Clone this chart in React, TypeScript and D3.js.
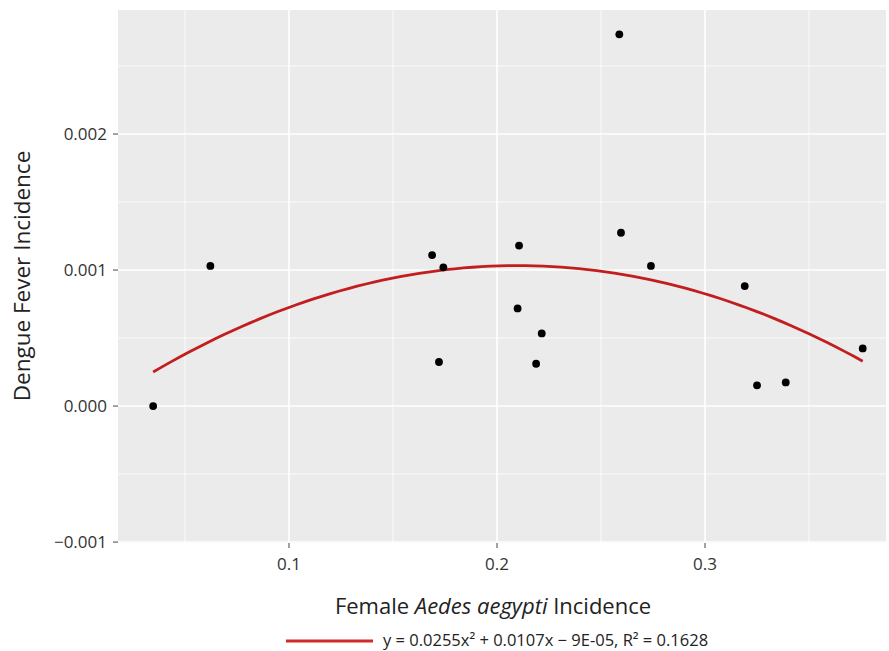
import React from "react";
import { scaleLinear, line, range } from "d3";

// observed points (x = female Aedes aegypti incidence, y = dengue fever incidence)
const aedesIncidence = [
  0.0347, 0.0622, 0.1688, 0.1742, 0.1721, 0.2099, 0.2106, 0.2188,
  0.2215, 0.2588, 0.2596, 0.274, 0.3191, 0.325, 0.3388, 0.3758
];
const dengueIncidence = [
  0.0, 0.00103, 0.00111, 0.00102, 0.000324, 0.000718, 0.00118, 0.000311,
  0.000534, 0.002733, 0.001274, 0.00103, 0.000882, 0.000152, 0.000174, 0.000424
];

// quadratic fit coefficients [a, b, c] for a*x^2 + b*x + c
const fitCoefs = [-0.0255, 0.0107, -0.00009];
const fitLabel = "y = 0.0255x\u00B2 + 0.0107x \u2212 9E-05, R\u00B2 = 0.1628";

const xTicks = [0.1, 0.2, 0.3];
const xMinor = [0.05, 0.15, 0.25, 0.35];
const yTicks = [-0.001, 0, 0.001, 0.002];
const yMinor = [-0.0005, 0.0005, 0.0015, 0.0025];

const xLim = [0.0178, 0.387];
const yLim = [-0.001007, 0.002912];

const W = 889;
const H = 651;
const FONT = "'Open Sans', 'Liberation Sans', sans-serif";

export default function App() {
  const left = 118, right = 886, top = 10, bottom = 543;

  const x = scaleLinear().domain(xLim).range([left, right]);
  const y = scaleLinear().domain(yLim).range([bottom, top]);

  // fitted curve over the observed x range
  const xs = range(0, 81).map(
    (i) => aedesIncidence[0] + (i / 80) * (aedesIncidence[aedesIncidence.length - 1] - aedesIncidence[0])
  );
  const fitPath = line<number>()
    .x((d) => x(d))
    .y((d) => y(fitCoefs[0] * d * d + fitCoefs[1] * d + fitCoefs[2]))(xs);

  const legendY = 640;

  return (
    <svg
      width={W}
      height={H}
      style={{ position: "absolute", left: 0, top: 0, background: "#fff" }}
      fontFamily={FONT}
    >
      <rect x={left} y={top} width={right - left} height={bottom - top} fill="#EBEBEB" />

      {/* minor grid */}
      {yMinor.map((v) => (
        <line key={"ym" + v} x1={left} x2={right} y1={y(v)} y2={y(v)} stroke="#fff" strokeWidth={0.8} />
      ))}
      {xMinor.map((v) => (
        <line key={"xm" + v} x1={x(v)} x2={x(v)} y1={top} y2={bottom} stroke="#fff" strokeWidth={0.8} />
      ))}
      {/* major grid */}
      {yTicks.map((v) => (
        <line key={"yg" + v} x1={left} x2={right} y1={y(v)} y2={y(v)} stroke="#fff" strokeWidth={1.6} />
      ))}
      {xTicks.map((v) => (
        <line key={"xg" + v} x1={x(v)} x2={x(v)} y1={top} y2={bottom} stroke="#fff" strokeWidth={1.6} />
      ))}

      {/* fit curve */}
      <path d={fitPath ?? ""} fill="none" stroke="#c21e1e" strokeWidth={2.8} />

      {/* points */}
      {aedesIncidence.map((v, i) => (
        <circle key={i} cx={x(v)} cy={y(dengueIncidence[i])} r={3.9} fill="#000" />
      ))}

      {/* y axis */}
      {yTicks.map((v) => (
        <g key={"yt" + v}>
          <line x1={left - 5} x2={left} y1={y(v)} y2={y(v)} stroke="#555" strokeWidth={1.1} />
          <text x={left - 11} y={y(v)} dy="0.35em" textAnchor="end" fontSize={17} fill="#333">
            {v < 0 ? "\u2212" + Math.abs(v).toFixed(3) : v.toFixed(3)}
          </text>
        </g>
      ))}
      {/* x axis */}
      {xTicks.map((v) => (
        <g key={"xt" + v}>
          <line x1={x(v)} x2={x(v)} y1={bottom} y2={bottom + 5} stroke="#555" strokeWidth={1.1} />
          <text x={x(v)} y={bottom + 27} textAnchor="middle" fontSize={17} fill="#333">
            {v.toFixed(1)}
          </text>
        </g>
      ))}

      {/* axis titles */}
      <text x={493} y={614} textAnchor="middle" fontSize={22} fill="#222">
        Female <tspan fontStyle="italic">Aedes aegypti</tspan> Incidence
      </text>
      <text
        transform={`translate(30, 276) rotate(-90)`}
        textAnchor="middle"
        fontSize={22.5}
        fill="#222"
      >
        Dengue Fever Incidence
      </text>

      {/* legend */}
      <line x1={286} x2={373} y1={legendY + 1} y2={legendY + 1} stroke="#d42a2a" strokeWidth={3} />
      <text x={383} y={legendY} dy="0.35em" fontSize={16.5} fill="#222">
        {fitLabel}
      </text>
    </svg>
  );
}
